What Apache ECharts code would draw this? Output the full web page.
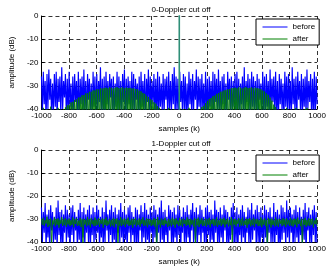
<!DOCTYPE html>
<html>
<head>
<meta charset="utf-8">
<script src="https://cdn.jsdelivr.net/npm/echarts@6/dist/echarts.min.js"></script>
<style>
  html, body { margin: 0; padding: 0; background: #fff; }
  #chart { width: 329px; height: 267px; }
</style>
</head>
<body>
<div id="chart"></div>
<script>
// axis ticks
const xTicks = [-1000, -800, -600, -400, -200, 0, 200, 400, 600, 800, 1000]
const yTicks = [-40, -30, -20, -10, 0]
const titles = ['0-Doppler cut off', '1-Doppler cut off']

// 0-Doppler: "before" peaks / troughs (dB), read left to right
const before0Hi = [
  -26, -24, -28, -25, -23, -27, -29, -25, -24, -27, -26, -22, -28, -25, -27,
  -24, -29, -26, -25, -28, -24, -27, -26, -23, -28, -25, -27, -29, -24, -26,
  -25, -28, -22, -27, -26, -24, -28, -25, -27, -26, -29, -24, -26, -28, -25,
  -23, -27, -26, -28, -24, -25, -27, -29, -26, -24, -28, -25, -27, -23, -26,
  -28, -25, -27, -24, -26, -29, -25, -27, -26, -24, -28, -25, -22, -26, -27,
  -24, -28, -25, -26, -29, -24, -27, -25, -28, -23, -26, -27, -25, -29, -24,
  -27, -26, -28, -24, -25, -27, -23, -28, -26, -25, -29, -24, -27, -26, -28,
  -25, -24, -27, -29, -26, -22, -28, -25, -27, -24, -26, -28, -25, -27, -29,
  -24, -26, -25, -28, -23, -27, -26, -24, -28, -25, -27, -29, -24, -26, -25,
  -28, -22, -27, -26, -24, -28, -25, -27, -26, -23, -28, -25, -27, -24, -26
]
const before0Lo = [
  -42, -38, -45, -40, -36, -44, -41, -39, -46, -37, -43, -40, -35, -44, -42,
  -39, -45, -41, -37, -43, -46, -38, -42, -40, -44, -36, -41, -45, -39, -43,
  -40, -37, -44, -42, -46, -38, -41, -35, -43, -45, -39, -42, -40, -44, -37,
  -45, -41, -38, -43, -40, -46, -36, -42, -44, -39, -41, -45, -37, -43, -40,
  -38, -44, -42, -46, -39, -41, -43, -36, -45, -40, -42, -38, -44, -41, -46,
  -37, -43, -40, -45, -42, -38, -44, -41, -36, -46, -39, -43, -40, -45, -42,
  -44, -39, -41, -46, -37, -43, -40, -45, -38, -42, -44, -36, -41, -45, -39,
  -43, -40, -46, -38, -42, -44, -37, -41, -45, -39, -43, -40, -46, -36, -42,
  -41, -45, -39, -43, -40, -37, -44, -42, -46, -38, -41, -45, -39, -43, -40,
  -46, -38, -42, -44, -36, -41, -45, -39, -43, -40, -37, -44, -42, -46, -38
]
// 0-Doppler: "after" top of the two lobes / troughs
const after0Hi = [
  -41, -39.5, -42, -40, -41.5, -39, -42, -40.5, -41, -39.5, -42,
  -41, -40, -39.3, -38.4, -38.1, -37.2, -36.9, -36.1, -35.9, -35.1, -34.9, -34.1, -34, -33.3, -33.2,
  -32.6, -32.6, -32, -32, -31.5, -31.6, -31.1, -31.2,
  -31, -30.8, -31.1, -30.7, -30.9, -31.2, -30.8, -30.6, -31, -30.9, -30.7, -31.1, -30.8, -31, -30.9, -31.2,
  -31.1, -31.4, -31.5, -32.1, -32.4, -33.1, -33.5, -34.3, -34.8, -35.7, -36.2, -37.1, -37.7, -38.8, -39.5, -40.5,
  -42, -40, -41.5, -39.5, -42, -41, -40, -42.5, -41, -39.5, -41.5, -40, -42, -41, -39.5, -42, -40.5, -41, -42, -40,
  -40, -39.1, -38.6, -37.5, -36.5, -35.7, -35.3, -34.5, -34.2, -33.5, -33.2, -32.6, -32.5, -32, -31.9, -31.5, -31.5, -31.1,
  -31, -30.8, -31.1, -30.7, -30.9, -31.2, -30.8, -30.6, -31, -30.9, -30.7, -31.1, -30.8, -31, -31.2,
  -31.5, -32.1, -32.5, -33.3, -33.9, -35.1, -36.4, -38.1, -39.1, -40.5,
  -41, -42, -40, -41.5, -39.5, -42, -40.5, -41, -42, -39.5, -41, -40, -42, -41.5, -40, -39.5, -42, -41, -40.5, -42, -41
]
const after0Lo = [
  -44, -45, -43, -46, -44, -45, -43, -44, -46, -45, -44, -43, -45, -44, -46,
  -44, -43, -45, -44, -46, -43, -45, -44, -45, -43, -44, -46, -45, -44, -43,
  -45, -44, -46, -43, -45, -44, -45, -43, -44, -46, -45, -44, -43, -45, -44,
  -46, -44, -43, -45, -44, -46, -43, -45, -44, -45, -43, -44, -46, -45, -44,
  -43, -45, -44, -46, -43, -45, -44, -45, -43, -44, -46, -45, -44, -43, -45,
  -44, -46, -44, -43, -45, -44, -46, -43, -45, -44, -45, -43, -44, -46, -45,
  -44, -43, -45, -44, -46, -43, -45, -44, -45, -43, -44, -46, -45, -44, -43,
  -45, -44, -46, -43, -45, -44, -45, -43, -44, -46, -45, -44, -43, -45, -44,
  -46, -44, -43, -45, -44, -46, -43, -45, -44, -45, -43, -44, -46, -45, -44,
  -43, -45, -44, -46, -43, -45, -44, -45, -43, -44, -46, -45, -44, -43, -45
]
// 0-Doppler spike at k = 0
const spikeX = [0, 0]
const spikeY = [-45, 1]

// 1-Doppler: "before" peaks / troughs
const before1Hi = [
  -25, -27, -23, -28, -26, -24, -27, -29, -25, -22, -27, -26, -28, -24, -26,
  -28, -25, -24, -27, -29, -26, -23, -27, -25, -28, -26, -24, -28, -25, -27,
  -24, -26, -29, -25, -27, -22, -28, -26, -24, -27, -25, -28, -26, -23, -27,
  -26, -28, -25, -24, -27, -29, -25, -26, -28, -24, -27, -23, -26, -28, -25,
  -27, -24, -26, -28, -25, -22, -27, -26, -29, -24, -26, -27, -25, -28, -24,
  -26, -29, -25, -27, -24, -28, -26, -23, -27, -25, -28, -24, -26, -29, -25,
  -24, -27, -26, -28, -22, -26, -27, -25, -28, -24, -26, -27, -29, -25, -23,
  -27, -25, -28, -26, -24, -27, -29, -25, -26, -23, -28, -26, -24, -27, -25,
  -28, -24, -26, -27, -25, -29, -23, -27, -26, -28, -24, -25, -27, -22, -26,
  -25, -28, -26, -24, -27, -25, -29, -26, -23, -27, -25, -28, -26, -24, -27
]
const before1Lo = [
  -40, -36, -43, -38, -45, -35, -41, -39, -44, -37, -42, -46, -36, -40, -38,
  -44, -37, -41, -35, -43, -39, -46, -38, -42, -36, -40, -45, -37, -41, -39,
  -36, -43, -38, -45, -40, -35, -42, -37, -44, -39, -46, -36, -41, -38, -43,
  -39, -45, -36, -41, -37, -44, -40, -46, -35, -42, -38, -43, -39, -45, -36,
  -42, -38, -44, -36, -41, -39, -45, -37, -43, -35, -40, -46, -38, -42, -37,
  -45, -36, -40, -43, -38, -46, -35, -41, -39, -44, -37, -42, -36, -45, -40,
  -37, -42, -39, -46, -36, -40, -44, -38, -43, -35, -41, -45, -39, -37, -44,
  -40, -46, -37, -42, -38, -45, -36, -41, -44, -39, -35, -43, -40, -46, -38,
  -43, -38, -45, -36, -41, -40, -44, -37, -42, -46, -39, -36, -43, -38, -41,
  -36, -44, -40, -38, -45, -37, -42, -39, -46, -35, -41, -43, -37, -40, -44
]
// 1-Doppler: "after" band top / bottom
const after1Hi = [
  -30, -29.5, -30.5, -29, -30.2, -29.8, -30.6, -29.4, -30, -29.7, -30.4, -29.2, -30.1, -29.6, -30.3,
  -29.8, -30.5, -29.3, -30, -29.6, -30.7, -29.5, -30.2, -29.9, -30.4, -29.1, -30, -29.7, -30.5, -29.4,
  -30.2, -29.6, -30.4, -29.8, -30.1, -29.3, -30.6, -29.9, -30.3, -29.5, -30, -29.7, -30.5, -29.2, -30.1,
  -29.7, -30.3, -29.4, -30.6, -29.9, -30.1, -29.5, -30.4, -29.8, -30.2, -29.3, -30.5, -29.6, -30, -29.9,
  -30.4, -29.6, -30.1, -29.2, -30.5, -29.8, -30.3, -29.5, -30.7, -29.9, -30.2, -29.4, -30, -29.7, -30.6,
  -29.5, -30.2, -29.8, -30.4, -29.3, -30.1, -29.9, -30.5, -29.6, -30, -29.4, -30.3, -29.7, -30.6, -29.8,
  -30.1, -29.5, -30.4, -29.9, -30.2, -29.3, -30.6, -29.7, -30, -29.5, -30.3, -29.8, -30.5, -29.2, -30.1,
  -29.9, -30.4, -29.6, -30.2, -29.4, -30.7, -29.8, -30, -29.6, -30.3, -29.5, -30.1, -29.9, -30.5, -29.3,
  -30.2, -29.7, -30.4, -29.5, -30, -29.8, -30.6, -29.4, -30.2, -29.9, -30.3, -29.6, -30.1, -29.7, -30.5,
  -29.6, -30.3, -29.8, -30.1, -29.4, -30.5, -29.9, -30.2, -29.5, -30.4, -29.7, -30, -29.8, -30.6, -29.5
]
const after1Lo = [
  -32.5, -33, -32, -33.5, -32.8, -41, -32.3, -33.2, -32.6, -33.8, -32.1, -33, -32.7, -33.4, -32.4,
  -33.1, -32.6, -33.6, -32.2, -33, -32.8, -33.5, -42, -32.4, -33.2, -32.7, -33.7, -32.3, -33.1, -32.9,
  -32.5, -33.4, -32.1, -33.8, -32.6, -33, -32.4, -33.3, -32.8, -33.6, -32.2, -40.5, -32.9, -33.1, -32.5,
  -33.5, -32.3, -33, -32.7, -33.8, -32.4, -33.2, -32.6, -33.4, -32.1, -33, -32.8, -33.6, -32.5, -33.1,
  -32.7, -33.3, -43, -32.4, -33.7, -32.6, -33, -32.2, -33.5, -32.9, -33.2, -32.5, -33.8, -32.3, -33.1,
  -32.8, -33.4, -32.1, -33, -32.6, -33.6, -32.4, -33.2, -41.5, -32.7, -33.5, -32.3, -33.1, -32.9, -33.3,
  -32.5, -33.7, -32.2, -33, -32.8, -33.4, -32.6, -33.1, -32.4, -33.6, -32.3, -33.2, -32.7, -40, -32.5,
  -33.3, -32.1, -33.5, -32.8, -33, -32.6, -33.8, -32.4, -33.2, -32.7, -33.4, -32.2, -33.1, -32.9, -33.6,
  -32.5, -33, -42.5, -32.3, -33.7, -32.6, -33.2, -32.8, -33.4, -32.1, -33.1, -32.7, -33.5, -32.4, -33,
  -32.9, -33.3, -32.5, -33.6, -32.2, -33.1, -41, -32.6, -33.4, -32.8, -33, -32.4, -33.7, -32.3, -33.2
]

// peak/trough pairs -> [k, dB] points spread over the sample range
function toPoints(hi, lo) {
  const n = hi.length * 2
  const span = xTicks[xTicks.length - 1] - xTicks[0]
  const pts = []
  for (let i = 0; i < hi.length; i++) {
    pts.push([xTicks[0] + (2 * i) * span / (n - 1), hi[i]])
    pts.push([xTicks[0] + (2 * i + 1) * span / (n - 1), lo[i]])
  }
  return pts
}

const font = 'Liberation Sans, Arial, sans-serif'
const BLUE = '#0000ff'
const GREEN = '#008000'
const grids = [
  { left: 32, top: 16, width: 289, height: 93 },
  { left: 32, top: 150, width: 289, height: 93 }
]

function xAxisFor(idx) {
  return {
    gridIndex: idx,
    type: 'value',
    min: -1000,
    max: 1000,
    interval: 200,
    name: 'samples (k)',
    nameLocation: 'middle',
    nameGap: 16,
    nameTextStyle: { color: '#000', fontSize: 8, fontFamily: font },
    axisLine: { show: true, onZero: false, lineStyle: { color: '#000', width: 1 } },
    axisTick: { show: true, inside: true, length: 3, lineStyle: { color: '#000' } },
    axisLabel: {
      color: '#000', fontSize: 8, fontFamily: font, margin: 3,
      showMinLabel: true, showMaxLabel: true,
      formatter: v => String(v)
    },
    splitLine: { show: true, lineStyle: { color: '#000', type: [4, 3], width: 0.8 } }
  }
}

function yAxisFor(idx) {
  return {
    gridIndex: idx,
    type: 'value',
    min: -40,
    max: 0,
    interval: 10,
    name: 'amplitude (dB)',
    nameLocation: 'middle',
    nameGap: 21,
    nameTextStyle: { color: '#000', fontSize: 8, fontFamily: font },
    axisLine: { show: true, onZero: false, lineStyle: { color: '#000', width: 1 } },
    axisTick: { show: true, inside: true, length: 3, lineStyle: { color: '#000' } },
    axisLabel: { color: '#000', fontSize: 8, fontFamily: font, margin: 3, formatter: v => String(v) },
    splitLine: { show: true, lineStyle: { color: '#000', type: [4, 3], width: 0.8 } }
  }
}

function lineSeries(name, idx, data, color, z, width) {
  return {
    name,
    type: 'line',
    xAxisIndex: idx,
    yAxisIndex: idx,
    data,
    symbol: 'none',
    sampling: false,
    clip: true,
    z,
    lineStyle: { color, width: width || 0.9 },
    itemStyle: { color }
  }
}

const chart = echarts.init(document.getElementById('chart'), null, { renderer: 'canvas' })

chart.setOption({
  animation: false,
  backgroundColor: '#fff',
  title: [
    { text: titles[0], left: 176, top: 1, textAlign: 'center', textStyle: { fontSize: 8, fontWeight: 'normal', color: '#000', fontFamily: font } },
    { text: titles[1], left: 176, top: 135, textAlign: 'center', textStyle: { fontSize: 8, fontWeight: 'normal', color: '#000', fontFamily: font } }
  ],
  legend: [0, 1].map(i => ({
    data: ['before', 'after'],
    orient: 'vertical',
    left: 256,
    top: i === 0 ? 19 : 155,
    padding: [4, 4, 2, 6],
    itemGap: 4,
    itemWidth: 25,
    itemHeight: 10,
    selectedMode: false,
    backgroundColor: '#fff',
    borderColor: '#000',
    borderWidth: 1,
    borderRadius: 0,
    itemStyle: { opacity: 0 },
    lineStyle: { width: 1 },
    textStyle: { color: '#000', fontSize: 8, fontFamily: font }
  })),
  grid: grids,
  xAxis: [xAxisFor(0), xAxisFor(1)],
  yAxis: [yAxisFor(0), yAxisFor(1)],
  series: [
    lineSeries('before', 0, toPoints(before0Hi, before0Lo), BLUE, 2, 1.15),
    lineSeries('after', 0, toPoints(after0Hi, after0Lo), GREEN, 3),
    lineSeries('after', 0, spikeX.map((x, i) => [x, spikeY[i]]), '#2f8f78', 4, 1.6),
    lineSeries('before', 1, toPoints(before1Hi, before1Lo), BLUE, 2, 1.15),
    lineSeries('after', 1, toPoints(after1Hi, after1Lo), GREEN, 3)
  ]
})
</script>
</body>
</html>
